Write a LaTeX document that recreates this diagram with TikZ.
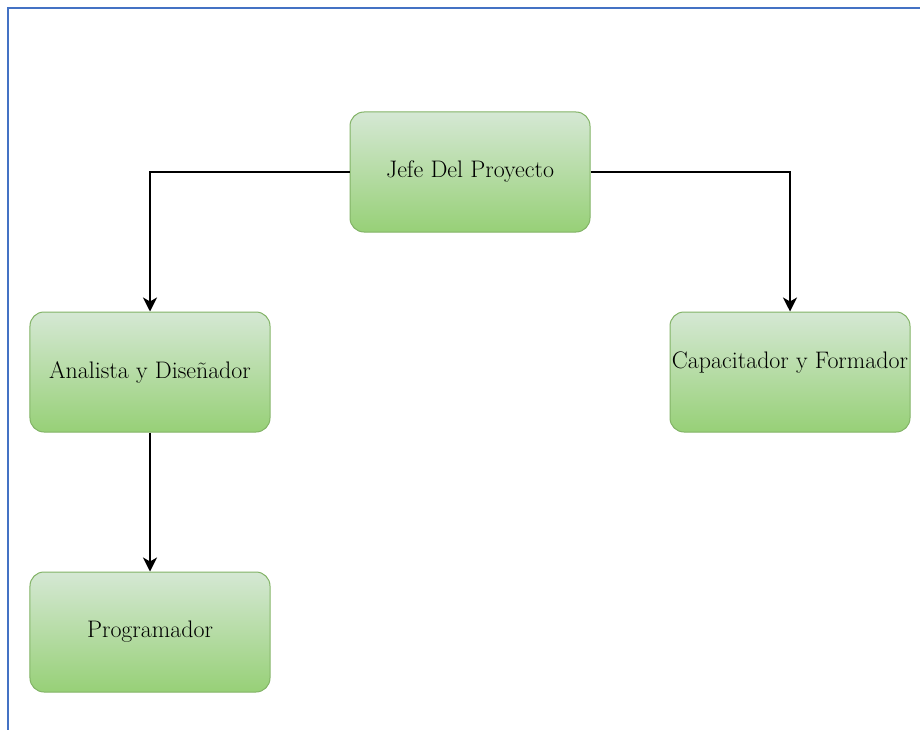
\documentclass[tikz,border=0pt]{standalone}
\usepackage{fontspec}
\usetikzlibrary{arrows.meta}
\definecolor{frameblue}{HTML}{4472C4}
\definecolor{boxtop}{HTML}{D5E8D4}
\definecolor{boxbot}{HTML}{97D077}
\definecolor{boxline}{HTML}{82B366}
\begin{document}
\begin{tikzpicture}[x=1bp,y=-1bp,
  rolebox/.style={draw=boxline, line width=1bp, rounded corners=14bp,
    minimum width=240bp, minimum height=120bp, inner sep=0pt,
    top color=boxtop, bottom color=boxbot, shading angle=0,
    font=\fontsize{24}{28}\selectfont},
  link/.style={line width=1.6bp, -{Stealth[length=14bp,width=14bp,inset=4bp]}}]
  \useasboundingbox (0,0) rectangle (920,730);
  % page frame
  \draw[frameblue, line width=2bp] (8,730) -- (8,8) -- (920,8);
  % roles
  \node[rolebox] (jefe) at (470,172) {Jefe Del Proyecto};
  \node[rolebox] (analista) at (150,372) {Analista y Diseñador};
  \node[rolebox, text depth=24bp] (capa) at (790,372) {Capacitador y Formador};
  \node[rolebox] (prog) at (150,632) {Programador};
  % reporting lines
  \draw[link] (jefe.west) -| (analista.north);
  \draw[link] (jefe.east) -| (capa.north);
  \draw[link] (analista.south) -- (prog.north);
\end{tikzpicture}
\end{document}
